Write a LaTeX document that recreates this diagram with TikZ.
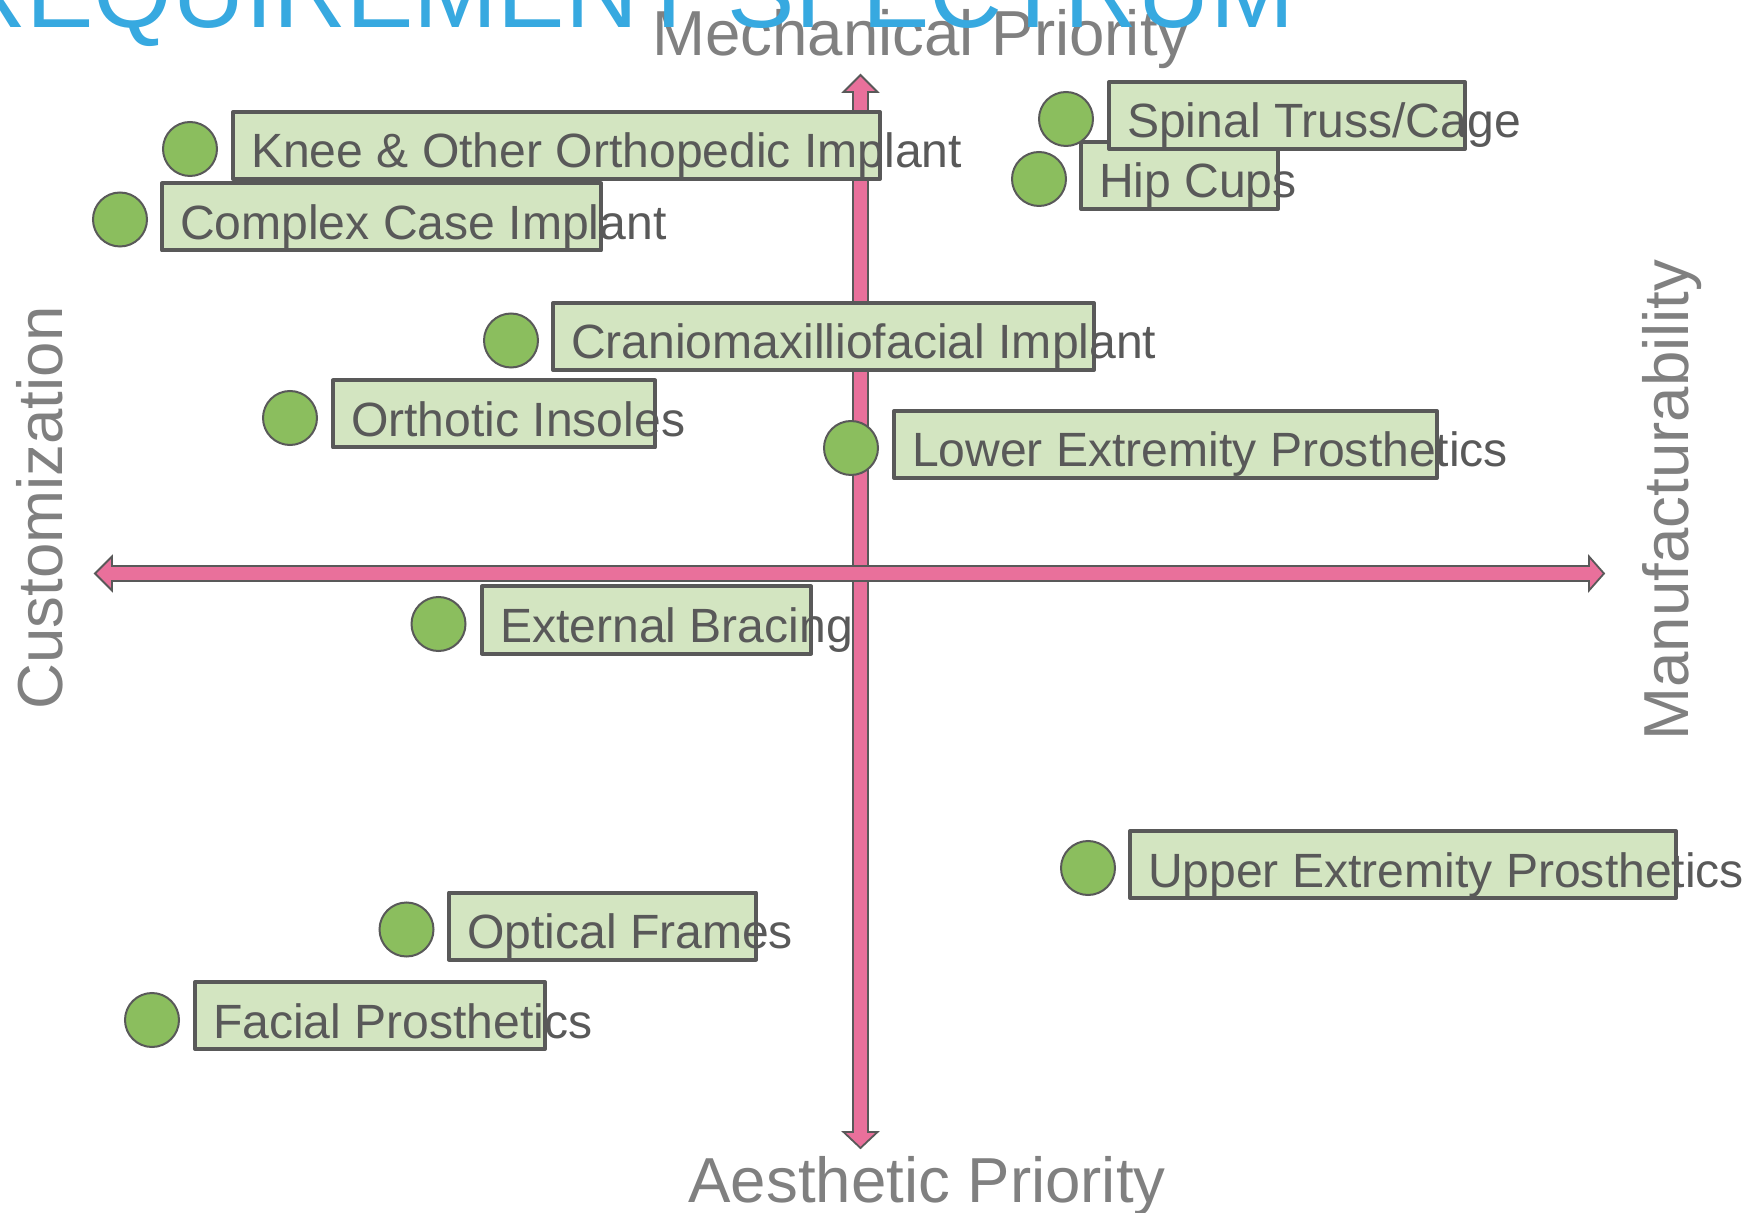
\documentclass[tikz,border=0pt]{standalone}
\usepackage{fontspec}
\setmainfont{Liberation Sans}
\usetikzlibrary{positioning}
\definecolor{ink}{HTML}{595959}
\definecolor{dotgreen}{HTML}{8BBE5E}
\definecolor{boxgreen}{HTML}{D3E5C1}
\definecolor{axispink}{HTML}{E9709B}
\definecolor{axisgray}{HTML}{808080}
\definecolor{titleblue}{HTML}{37A9E0}
\newcommand{\boxlabel}[2]{\makebox[\dimexpr(#1pt-36pt)/2\relax][l]{#2}}
\tikzset{
itemdot/.style={circle,draw=ink,fill=dotgreen,line width=1pt,minimum size=27pt,inner sep=0pt},
itembox/.style={draw=ink,fill=boxgreen,line width=2pt,line join=round,anchor=west,outer sep=0pt,inner xsep=9pt,inner ysep=0pt,text height=28pt,text depth=5.5pt,text=ink,font=\fontsize{24.05pt}{28pt}\selectfont},
axisbar/.style={draw=ink,fill=axispink,line width=.9pt},
axislabel/.style={text=axisgray,inner sep=0pt,font=\fontsize{31.8pt}{36pt}\selectfont},
heading/.style={text=titleblue,inner sep=0pt,font=\fontsize{50.5pt}{60pt}\selectfont}}

\begin{document}
\begin{tikzpicture}[x=0.5pt,y=-0.5pt]
\useasboundingbox (0,0) rectangle (1756,1213);
% axes
\draw[axisbar] (860.5,75)--(877.5,92)--(868,92)--(868,1132)--(877.5,1132)--(860.5,1148)--(843.5,1132)--(853,1132)--(853,92)--(843.5,92)--cycle;
\draw[axisbar] (95,573.5)--(112,556.5)--(112,566)--(1589,566)--(1589,556.5)--(1604,573.5)--(1589,590.5)--(1589,581)--(112,581)--(112,590.5)--cycle;
\node[axislabel,anchor=base] (mech) at (921,56) {Mechanical Priority};
\node[axislabel,anchor=base] (aesth) at (927,1202) {Aesthetic Priority};
\node[axislabel,anchor=base,rotate=90] (custom) at (62,508) {Customization};
\node[axislabel,anchor=base,rotate=90] (manuf) at (1688,500) {Manufacturability};
% applications
\node[itemdot] (kneedot) at (190,149) {};
\node[itembox] (knee) at (233,145.5) {\boxlabel{647}{Knee \& Other Orthopedic Implant}};
\node[itemdot] (complexdot) at (120,219.5) {};
\node[itembox] (complex) at (162,217) {\boxlabel{439}{Complex Case Implant}};
\node[itemdot] (hipdot) at (1039,179) {};
\node[itembox] (hip) at (1081,175.5) {\boxlabel{197}{Hip Cups}};
\node[itemdot] (spinaldot) at (1066,119) {};
\node[itembox] (spinal) at (1109,115.5) {\boxlabel{356}{Spinal Truss/Cage}};
\node[itemdot] (craniodot) at (511,340.5) {};
\node[itembox] (cranio) at (553,336.5) {\boxlabel{541}{Craniomaxilliofacial Implant}};
\node[itemdot] (orthoticdot) at (290,418) {};
\node[itembox] (orthotic) at (333,414) {\boxlabel{322}{Orthotic Insoles}};
\node[itemdot] (lowerdot) at (851,448) {};
\node[itembox] (lower) at (894,444.5) {\boxlabel{543}{Lower Extremity Prosthetics}};
\node[itemdot] (bracingdot) at (438.5,624) {};
\node[itembox] (bracing) at (482,620) {\boxlabel{329}{External Bracing}};
\node[itemdot] (upperdot) at (1088,868) {};
\node[itembox] (upper) at (1130,864.5) {\boxlabel{546}{Upper Extremity Prosthetics}};
\node[itemdot] (opticaldot) at (406.5,929.5) {};
\node[itembox] (optical) at (449,926) {\boxlabel{307}{Optical Frames}};
\node[itemdot] (facialdot) at (152,1020) {};
\node[itembox] (facial) at (195,1015.5) {\boxlabel{350}{Facial Prosthetics}};
% title
\node[heading,anchor=base east] (title) at (1295,28) {REQUIREMENT SPECTRUM};
\end{tikzpicture}
\end{document}
